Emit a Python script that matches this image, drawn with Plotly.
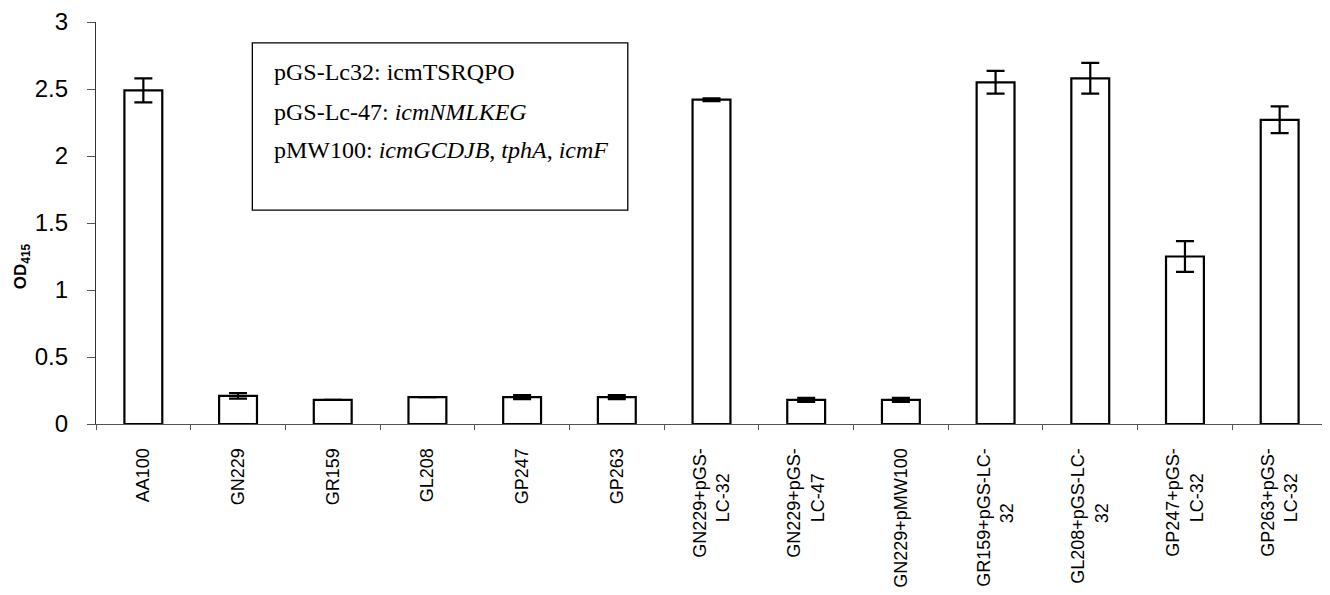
import plotly.graph_objects as go

categories = ["AA100", "GN229", "GR159", "GL208", "GP247", "GP263",
              "GN229+pGS-<br>LC-32", "GN229+pGS-<br>LC-47", "GN229+pMW100",
              "GR159+pGS-LC-<br>32", "GL208+pGS-LC-<br>32", "GP247+pGS-<br>LC-32",
              "GP263+pGS-<br>LC-32"]
od415 = [2.49, 0.21, 0.18, 0.20, 0.20, 0.20, 2.42, 0.18, 0.18, 2.55, 2.58, 1.25, 2.27]
od415_err = [0.09, 0.02, 0.0, 0.0, 0.015, 0.015, 0.01, 0.015, 0.015, 0.085, 0.115, 0.115, 0.10]
y_ticks = [0, 0.5, 1, 1.5, 2, 2.5, 3]
y_tick_labels = ["0", "0.5", "1", "1.5", "2", "2.5", "3"]
legend_lines = ["pGS-Lc32: icmTSRQPO",
                "pGS-Lc-47: <i>icmNMLKEG</i>",
                "pMW100: <i>icmGCDJB</i>, <i>tphA</i>, <i>icmF</i>"]


def centered(label):
    # rotated multi-line tick labels are end-aligned in plotly; pad short lines
    parts = label.split("<br>")
    longest = max(len(p) for p in parts)
    return "<br>".join(p + "\u00a0" * (longest - len(p)) for p in parts)


tick_text = [centered(c) for c in categories]

fig = go.Figure()
fig.add_trace(go.Bar(
    x=categories, y=od415,
    marker=dict(color="white", line=dict(color="black", width=2.2)),
    error_y=dict(type="data", array=od415_err, visible=True,
                 color="black", thickness=2.2, width=9),
    width=0.4,
))

fig.update_layout(
    width=1330, height=595,
    margin=dict(l=88, r=11, t=14, b=179),
    paper_bgcolor="white", plot_bgcolor="white",
    showlegend=False,
    font=dict(family="Liberation Sans, Arial", color="black"),
)
fig.update_xaxes(
    automargin=False,
    tickmode="array", tickvals=categories, ticktext=tick_text,
    tickangle=-90, tickfont=dict(size=18, family="Liberation Sans, Arial"),
    ticklabelstandoff=16,
    showline=True, linecolor="#555", linewidth=1,
    ticks="outside", ticklen=5, tickcolor="#555", tickson="boundaries",
    showgrid=False,
)
fig.update_yaxes(
    automargin=False,
    range=[0, 3], tickvals=y_ticks, ticktext=y_tick_labels,
    tickfont=dict(size=24, family="Liberation Sans, Arial"),
    ticklabelstandoff=14,
    showline=True, linecolor="#333", linewidth=1.2,
    ticks="outside", ticklen=8, tickcolor="#555",
    showgrid=False, zeroline=False,
)

fig.add_annotation(xref="paper", yref="paper", x=-0.060, y=0.393,
                   text="<b>OD<sub>415</sub></b>", textangle=-90, showarrow=False,
                   xanchor="center", yanchor="middle",
                   font=dict(family="Liberation Sans, Arial", size=17, color="black"))

fig.add_shape(type="rect", xref="paper", yref="paper",
              x0=0.127, x1=0.432, y0=0.532, y1=0.948,
              line=dict(color="black", width=1.3), fillcolor="white")
legend_y = [0.876, 0.777, 0.682]
for line, yy in zip(legend_lines, legend_y):
    fig.add_annotation(xref="paper", yref="paper", x=0.143, y=yy,
                       text=line, showarrow=False, xanchor="left", yanchor="middle",
                       font=dict(family="Liberation Serif, Times New Roman", size=24, color="black"))

fig.write_html("out.html")
